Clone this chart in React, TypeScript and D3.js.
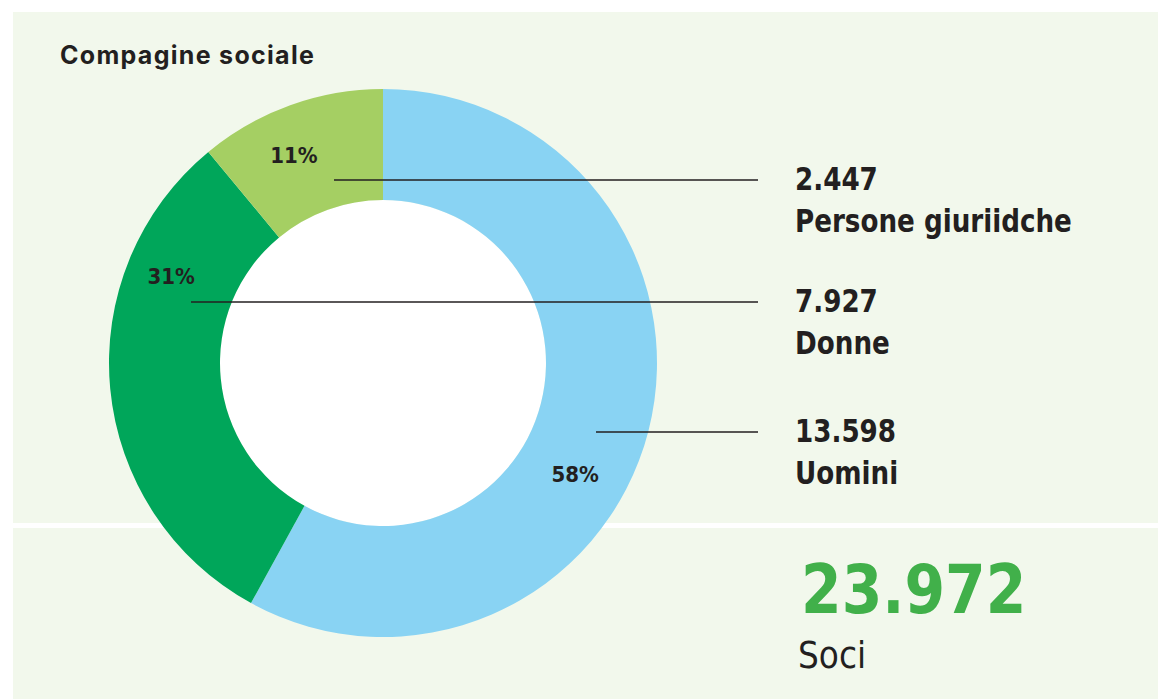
import React, { useEffect, useRef } from 'react';
import * as d3 from 'd3';

const categories = ['Uomini', 'Donne', 'Persone giuriidche'];
const counts = ['13.598', '7.927', '2.447'];
const percents = [58, 31, 11];
const colors = ['#89d3f3', '#00a65a', '#a5cf63'];
const totalLabel = '23.972';
const totalName = 'Soci';
const title = 'Compagine sociale';

// label placement (polar, degrees clockwise from top) and leader line geometry relative to centre
const labelAngle = [120, 292.3, 336.8];
const labelRadius = [222, 229, 226];
const lineDy = [69, -61, -183];
const lineDx = [213, -192, -49];

const W = 1158;
const H = 699;
const cx = 383;
const cy = 363;
const outerR = 274;
const innerR = 163;
const lineEndX = 758;
const textX = 795;

const condensed = "'DejaVu Sans Condensed', 'DejaVu Sans', sans-serif";

const App: React.FC = () => {
  const ref = useRef<SVGSVGElement>(null);

  useEffect(() => {
    const svg = d3.select(ref.current);
    svg.selectAll('*').remove();

    svg.append('rect').attr('x', 13).attr('y', 12).attr('width', W - 13).attr('height', H - 12).attr('fill', '#f2f8ec');
    svg.append('rect').attr('x', 13).attr('y', 523).attr('width', W - 13).attr('height', 5).attr('fill', '#ffffff');

    svg
      .append('text')
      .attr('x', 60)
      .attr('y', 64)
      .attr('font-family', 'Inter, sans-serif')
      .attr('font-weight', 700)
      .attr('font-size', 25)
      .attr('letter-spacing', 1.3)
      .attr('fill', '#231f20')
      .text(title);

    const data = percents.map((p, i) => ({ p, i }));
    const pie = d3
      .pie<{ p: number; i: number }>()
      .value((d) => d.p)
      .sort(null);
    const arc = d3
      .arc<d3.PieArcDatum<{ p: number; i: number }>>()
      .innerRadius(innerR)
      .outerRadius(outerR);

    const g = svg.append('g').attr('transform', `translate(${cx},${cy})`);
    g.append('circle').attr('r', innerR).attr('fill', '#ffffff');
    g.selectAll('path')
      .data(pie(data))
      .enter()
      .append('path')
      .attr('d', arc)
      .attr('fill', (d) => colors[d.data.i]);

    // percent labels
    g.selectAll('text.pct')
      .data(data)
      .enter()
      .append('text')
      .attr('class', 'pct')
      .attr('x', (d) => labelRadius[d.i] * Math.sin((labelAngle[d.i] * Math.PI) / 180))
      .attr('y', (d) => -labelRadius[d.i] * Math.cos((labelAngle[d.i] * Math.PI) / 180) + 8)
      .attr('text-anchor', 'middle')
      .attr('font-family', condensed)
      .attr('font-weight', 700)
      .attr('font-size', 22)
      .attr('fill', '#231f20')
      .text((d) => `${d.p}%`);

    // leader lines
    g.selectAll('line.lead')
      .data(data)
      .enter()
      .append('line')
      .attr('class', 'lead')
      .attr('x1', (d) => lineDx[d.i])
      .attr('x2', lineEndX - cx)
      .attr('y1', (d) => lineDy[d.i])
      .attr('y2', (d) => lineDy[d.i])
      .attr('stroke', '#231f20')
      .attr('stroke-width', 1.5);

    const labels = svg.append('g');
    data.forEach((d) => {
      const y = cy + lineDy[d.i];
      const lg = labels.append('g').attr('transform', `translate(${textX},${y}) scale(0.91,1)`);
      lg.append('text')
        .attr('y', 10)
        .attr('font-family', condensed)
        .attr('font-weight', 700)
        .attr('font-size', 32)
        .attr('fill', '#231f20')
        .text(counts[d.i]);
      lg.append('text')
        .attr('y', 52)
        .attr('font-family', condensed)
        .attr('font-weight', 700)
        .attr('font-size', 32)
        .attr('fill', '#231f20')
        .text(categories[d.i]);
    });

    svg
      .append('text')
      .attr('transform', 'translate(801,613) scale(0.955,1)')
      .attr('font-family', condensed)
      .attr('font-weight', 700)
      .attr('font-size', 68)
      .attr('fill', '#41b04a')
      .text(totalLabel);
    svg
      .append('text')
      .attr('transform', 'translate(798,668) scale(0.96,1)')
      .attr('font-family', condensed)
      .attr('font-size', 38)
      .attr('fill', '#231f20')
      .text(totalName);
  }, []);

  return (
    <svg
      ref={ref}
      width={W}
      height={H}
      style={{ position: 'absolute', left: 0, top: 0, background: '#ffffff' }}
    />
  );
};

export default App;
